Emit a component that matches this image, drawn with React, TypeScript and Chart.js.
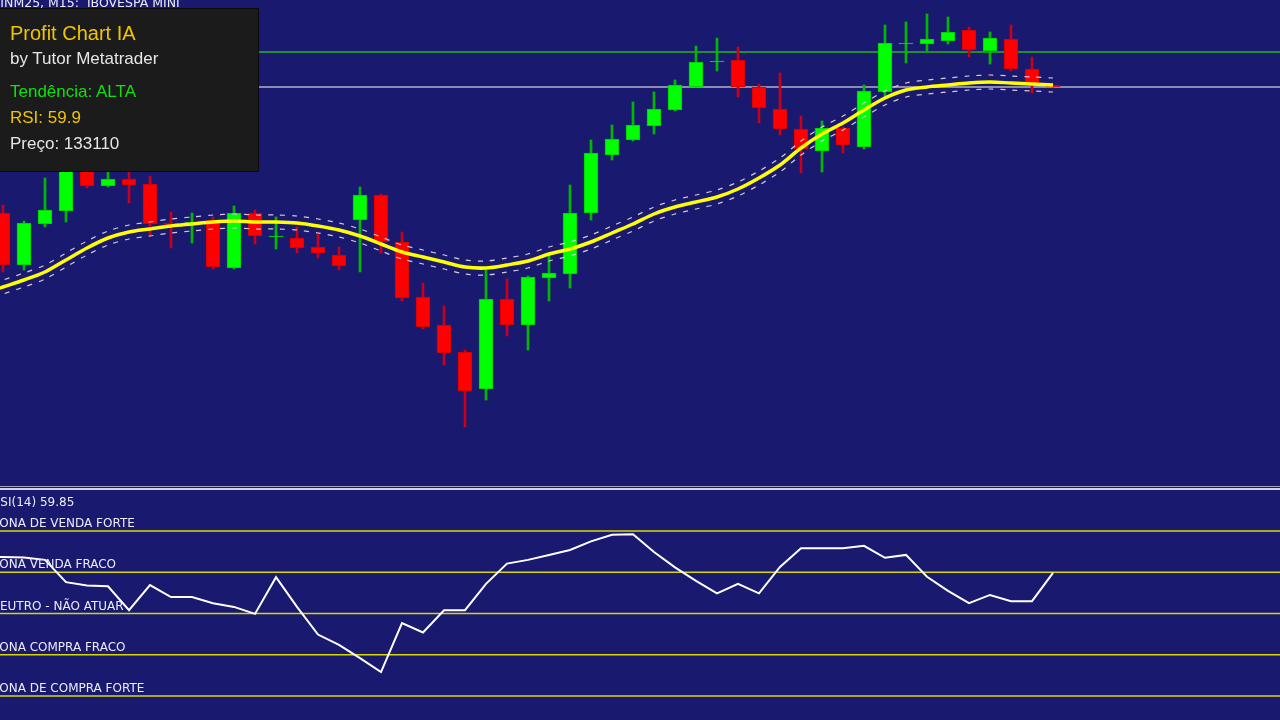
import { useEffect, useRef } from "react";
import { Chart, registerables } from "chart.js";

Chart.register(...registerables);

// ---------- DATA ----------
const symbolTitle = "WINM25, M15:  IBOVESPA MINI";
const rsiTitle = "RSI(14) 59.85";

// OHLC of the 51 visible M15 bars (points)
const opens = [
  132480, 132220, 132425, 132490, 132720, 132615, 132650, 132625, 132430, 132430,
  132445, 132205, 132480, 132360, 132355, 132310, 132270, 132445, 132570, 132335,
  132060, 131920, 131785, 131600, 132050, 131920, 132155, 132175, 132480, 132770,
  132845, 132915, 132995, 133110, 133235, 133245, 133110, 133000, 132900, 132790,
  132905, 132810, 133085, 133325, 133325, 133340, 133395, 133290, 133350, 133200,
  133120,
];
const highs = [
  132520, 132440, 132655, 132795, 132755, 132705, 132705, 132665, 132485, 132480,
  132460, 132515, 132495, 132460, 132410, 132380, 132310, 132610, 132575, 132385,
  132130, 132015, 131795, 132195, 132150, 132165, 132270, 132620, 132845, 132920,
  133035, 133085, 133145, 133315, 133355, 133310, 133125, 133180, 132965, 132940,
  132910, 133120, 133420, 133435, 133475, 133460, 133410, 133385, 133420, 133260,
  133120,
];
const lows = [
  132185, 132195, 132410, 132435, 132605, 132610, 132530, 132370, 132305, 132330,
  132200, 132200, 132325, 132300, 132280, 132255, 132195, 132185, 132280, 132040,
  131900, 131720, 131410, 131545, 131865, 131795, 132040, 132105, 132445, 132745,
  132840, 132875, 132990, 133110, 133190, 133060, 132930, 132870, 132680, 132685,
  132780, 132800, 133060, 133230, 133290, 133325, 133260, 133225, 133190, 133080,
  133110,
];
const closes = [
  132220, 132430, 132495, 132720, 132615, 132650, 132620, 132425, 132420, 132435,
  132210, 132480, 132365, 132365, 132305, 132280, 132215, 132570, 132335, 132055,
  131910, 131780, 131590, 132050, 131920, 132160, 132180, 132480, 132780, 132850,
  132920, 133000, 133120, 133235, 133240, 133110, 133005, 132900, 132800, 132905,
  132820, 133090, 133330, 133330, 133350, 133385, 133295, 133355, 133200, 133130,
  133110,
];

// indicator series start one bar before the first visible bar
const INDICATOR_START = -1;
const maValues = [
  132075,
  132110, 132145, 132185, 132245, 132305, 132355, 132385, 132400, 132415, 132425,
  132435, 132440, 132435, 132435, 132430, 132415, 132395, 132365, 132325, 132285,
  132260, 132235, 132210, 132205, 132220, 132240, 132275, 132300, 132335, 132380,
  132425, 132475, 132510, 132535, 132560, 132600, 132655, 132720, 132805, 132875,
  132930, 132995, 133055, 133095, 133110, 133120, 133130, 133135, 133130, 133125,
  133120,
];
const envUpper = [
  132110,
  132145, 132180, 132220, 132280, 132340, 132390, 132420, 132435, 132450, 132460,
  132470, 132475, 132470, 132470, 132465, 132450, 132430, 132400, 132360, 132320,
  132295, 132270, 132245, 132240, 132255, 132275, 132310, 132335, 132370, 132415,
  132460, 132510, 132545, 132570, 132595, 132635, 132690, 132755, 132840, 132910,
  132965, 133030, 133090, 133130, 133145, 133155, 133165, 133170, 133165, 133160,
  133155,
];
const envLower = [
  132040,
  132075, 132110, 132150, 132210, 132270, 132320, 132350, 132365, 132380, 132390,
  132400, 132405, 132400, 132400, 132395, 132380, 132360, 132330, 132290, 132250,
  132225, 132200, 132175, 132170, 132185, 132205, 132240, 132265, 132300, 132345,
  132390, 132440, 132475, 132500, 132525, 132565, 132620, 132685, 132770, 132840,
  132895, 132960, 133020, 133060, 133075, 133085, 133095, 133100, 133095, 133090,
  133085,
];
const rsiValues = [
  63.5,
  63.7, 63.6, 63.0, 57.6, 56.8, 56.6, 50.8, 56.9, 54.0, 54.0,
  52.5, 51.6, 49.9, 58.8, 51.6, 44.9, 42.4, 39.2, 35.8, 47.7,
  45.4, 50.8, 50.8, 57.2, 62.1, 63.0, 64.2, 65.4, 67.5, 69.1,
  69.2, 64.9, 61.2, 57.9, 54.9, 57.2, 54.9, 61.3, 65.8, 65.8,
  65.8, 66.4, 63.5, 64.2, 58.9, 55.5, 52.5, 54.5, 53.0, 53.0,
  59.85,
];

const rsiLevels = [70, 60, 50, 40, 30];
const rsiLevelLabels = [
  "ZONA DE VENDA FORTE",
  "ZONA VENDA FRACO",
  "NEUTRO - NÃO ATUAR",
  "ZONA COMPRA FRACO",
  "ZONA DE COMPRA FORTE",
];

const resistancePrice = 133285;
const bidPrice = 133110;

const infoTitle = "Profit Chart IA";
const infoAuthor = "by Tutor Metatrader";
const infoTrend = "Tendência: ALTA";
const infoRsi = "RSI: 59.9";
const infoPrice = "Preço: 133110";

// ---------- AXIS WINDOWS ----------
const X_MIN = -0.142857;
const X_MAX = 60.809524;
const PRICE_MIN = 131120;
const PRICE_MAX = 133545;
const RSI_MIN = 24.18;
const RSI_MAX = 79.7;

const BG = "#191970";

export default function App() {
  const mainRef = useRef<HTMLCanvasElement>(null);
  const rsiRef = useRef<HTMLCanvasElement>(null);

  useEffect(() => {
    const prevMargin = document.body.style.margin;
    document.body.style.margin = "0";
    document.body.style.background = BG;

    const idx = closes.map((_, i) => i);
    const isUp = idx.map((i) => closes[i] >= opens[i]);
    const bodyData = idx.map((i) => ({ x: i, y: [opens[i], closes[i]] }));
    const wickData = idx.map((i) => ({ x: i, y: [lows[i], highs[i]] }));
    const maData = maValues.map((v, k) => ({ x: k + INDICATOR_START, y: v }));
    const upData = envUpper.map((v, k) => ({ x: k + INDICATOR_START, y: v }));
    const loData = envLower.map((v, k) => ({ x: k + INDICATOR_START, y: v }));
    const rsiData = rsiValues.map((v, k) => ({ x: k + INDICATOR_START, y: v }));

    const hline = (val: number, color: string, width: number, order: number) => ({
      type: "line" as const,
      data: [
        { x: X_MIN, y: val },
        { x: X_MAX, y: val },
      ],
      borderColor: color,
      borderWidth: width,
      pointRadius: 0,
      order,
    });

    const baseOptions = {
      animation: false as const,
      responsive: false,
      devicePixelRatio: 1,
      events: [] as any[],
      layout: { padding: 0 },
      plugins: { legend: { display: false }, tooltip: { enabled: false } },
    };

    const main = new Chart(mainRef.current!, {
      type: "bar",
      data: {
        datasets: [
          hline(resistancePrice, "#1f8f2f", 2, 20),
          hline(bidPrice, "#b0b0cc", 1.5, 19),
          {
            type: "bar",
            data: wickData as any,
            backgroundColor: idx.map((i) => (isUp[i] ? "#00b800" : "#c8001c")),
            barThickness: 2,
            grouped: false,
            order: 10,
          },
          {
            type: "bar",
            data: bodyData as any,
            backgroundColor: idx.map((i) => (isUp[i] ? "#00ff00" : "#ff0000")),
            borderColor: idx.map((i) => (isUp[i] ? "#00c800" : "#d00000")),
            borderWidth: 1,
            borderSkipped: false,
            barThickness: 14,
            grouped: false,
            order: 9,
          },
          {
            type: "line",
            data: upData,
            borderColor: "#d8c8d8",
            borderWidth: 1.2,
            borderDash: [5, 7],
            pointRadius: 0,
            tension: 0.3,
            order: 3,
          },
          {
            type: "line",
            data: loData,
            borderColor: "#d8c8d8",
            borderWidth: 1.2,
            borderDash: [5, 7],
            pointRadius: 0,
            tension: 0.3,
            order: 2,
          },
          {
            type: "line",
            data: maData,
            borderColor: "#ffff00",
            borderWidth: 3.5,
            pointRadius: 0,
            tension: 0.3,
            order: 1,
          },
        ] as any,
      },
      options: {
        ...baseOptions,
        scales: {
          x: { type: "linear", min: X_MIN, max: X_MAX, display: false, offset: false },
          y: { type: "linear", min: PRICE_MIN, max: PRICE_MAX, display: false },
        },
      } as any,
    });

    const rsiLabelsPlugin = {
      id: "rsiLabels",
      afterDatasetsDraw(chart: any) {
        const ctx = chart.ctx as CanvasRenderingContext2D;
        const y = chart.scales.y;
        ctx.save();
        ctx.fillStyle = "#ececf4";
        ctx.font = '12px "DejaVu Sans"';
        ctx.textBaseline = "alphabetic";
        ctx.textAlign = "left";
        rsiLevels.forEach((lv, k) => {
          ctx.fillText(rsiLevelLabels[k], -9, y.getPixelForValue(lv) - 4);
        });
        ctx.fillText(rsiTitle, -8, 15);
        ctx.restore();
      },
    };

    const rsi = new Chart(rsiRef.current!, {
      type: "line",
      data: {
        datasets: [
          ...rsiLevels.map((lv, k) => hline(lv, "#d8d800", 1.5, 10 + k)),
          {
            type: "line",
            data: rsiData,
            borderColor: "#ffffff",
            borderWidth: 2,
            pointRadius: 0,
            tension: 0,
            order: 1,
          },
        ] as any,
      },
      options: {
        ...baseOptions,
        scales: {
          x: { type: "linear", min: X_MIN, max: X_MAX, display: false, offset: false },
          y: { type: "linear", min: RSI_MIN, max: RSI_MAX, display: false },
        },
      } as any,
      plugins: [rsiLabelsPlugin],
    });

    return () => {
      main.destroy();
      rsi.destroy();
      document.body.style.margin = prevMargin;
    };
  }, []);

  const mt5Font = '"DejaVu Sans", Tahoma, sans-serif';
  const boxFont = '"Liberation Sans", Arial, sans-serif';

  return (
    <div
      style={{
        position: "fixed",
        left: 0,
        top: 0,
        width: 1280,
        height: 720,
        background: BG,
        overflow: "hidden",
      }}
    >
      <canvas
        ref={mainRef}
        width={1280}
        height={485}
        style={{ position: "absolute", left: 0, top: 0, width: 1280, height: 485 }}
      />
      <div
        style={{
          position: "absolute",
          left: 0,
          top: 486,
          width: 1280,
          height: 1,
          background: "#a4a4c4",
        }}
      />
      <div
        style={{
          position: "absolute",
          left: 0,
          top: 488,
          width: 1280,
          height: 2,
          background: "#d4d4e4",
        }}
      />
      <canvas
        ref={rsiRef}
        width={1280}
        height={229}
        style={{ position: "absolute", left: 0, top: 491, width: 1280, height: 229 }}
      />
      <div
        style={{
          position: "absolute",
          left: -12,
          top: -3,
          font: `12.5px ${mt5Font}`,
          lineHeight: "12px",
          color: "#ececf4",
          whiteSpace: "pre",
        }}
      >
        {symbolTitle}
      </div>
      <div
        style={{
          position: "absolute",
          left: -1,
          top: 8,
          width: 258,
          height: 162,
          background: "#1b1b1b",
          border: "1px solid #0a0a0a",
          fontFamily: boxFont,
        }}
      >
        <div style={{ position: "absolute", left: 10, top: 12, fontSize: 20, lineHeight: "24px", color: "#f0c400" }}>
          {infoTitle}
        </div>
        <div style={{ position: "absolute", left: 10, top: 40, fontSize: 17, lineHeight: "20px", color: "#e6e6e6" }}>
          {infoAuthor}
        </div>
        <div style={{ position: "absolute", left: 10, top: 73, fontSize: 17, lineHeight: "20px", color: "#10e010" }}>
          {infoTrend}
        </div>
        <div style={{ position: "absolute", left: 10, top: 99, fontSize: 17, lineHeight: "20px", color: "#f0c400" }}>
          {infoRsi}
        </div>
        <div style={{ position: "absolute", left: 10, top: 125, fontSize: 17, lineHeight: "20px", color: "#e6e6e6" }}>
          {infoPrice}
        </div>
      </div>
    </div>
  );
}
